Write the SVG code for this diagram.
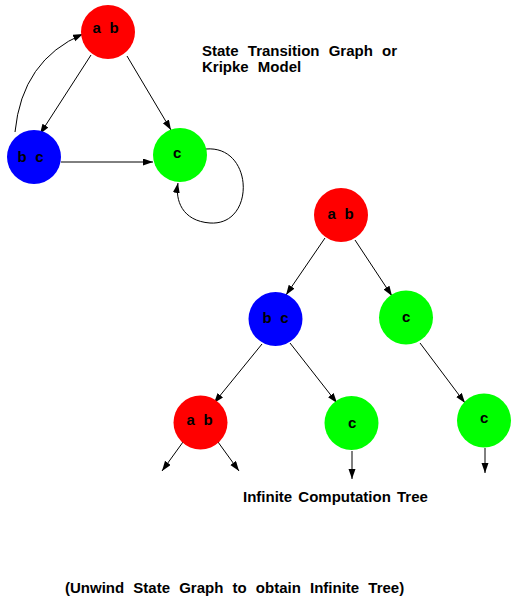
<svg xmlns="http://www.w3.org/2000/svg" width="515" height="608" viewBox="0 0 515 608">
<style>
.t{font-family:"Liberation Sans",Arial,Helvetica,sans-serif;font-weight:bold;fill:#000}
.n{font-size:15px;word-spacing:4.5px}
.h{font-size:15px;word-spacing:5px}
.e{fill:none;stroke:#000;stroke-width:1;marker-end:url(#a)}
.r{fill:#ff0000}.b{fill:#0000ff}.g{fill:#00ff00}
</style>
<defs>
<marker id="a" markerUnits="userSpaceOnUse" markerWidth="11" markerHeight="8" refX="10" refY="3.5" orient="auto">
<path d="M0,0 L10,3.5 L0,7 z" fill="#000"/>
</marker>
</defs>
<rect width="515" height="608" fill="#fff"/>
<g id="connectors">
<path class="e" d="M15,132 Q22,60 83,34"/>
<path class="e" d="M91,55 L40,134"/>
<path class="e" d="M127,56 L171,130"/>
<path class="e" d="M61,162 L153,162"/>
<path class="e" d="M206,149 C254,145 256,226 210,223 C182,221 175,200 178,183"/>
<path class="e" d="M325,238 L286,295"/>
<path class="e" d="M355,240 L392,296"/>
<path class="e" d="M262,344 L214,403"/>
<path class="e" d="M290,343 L337,403"/>
<path class="e" d="M420,343 L465,403"/>
<path class="e" d="M183,442 L162,471"/>
<path class="e" d="M218,442 L239,471"/>
<path class="e" d="M352,451 L352,479"/>
<path class="e" d="M485,448 L485,473"/>
</g>
<g id="g_ab"><circle class="r" cx="108" cy="32" r="27"/><text class="t n" x="92.5" y="33">a b</text></g>
<g id="g_bc"><circle class="b" cx="34" cy="157" r="27"/><text class="t n" x="17.5" y="162">b c</text></g>
<g id="g_c"><circle class="g" cx="180" cy="155" r="27"/><text class="t n" x="173" y="158">c</text></g>
<g id="t_root"><circle class="r" cx="341" cy="215" r="27"/><text class="t n" x="327.5" y="219">a b</text></g>
<g id="t_bc"><circle class="b" cx="275.5" cy="319" r="27"/><text class="t n" x="262.5" y="323">b c</text></g>
<g id="t_c1"><circle class="g" cx="406" cy="317.5" r="27"/><text class="t n" x="402" y="322">c</text></g>
<g id="t_ab2"><circle class="r" cx="200.5" cy="422.5" r="27"/><text class="t n" x="186.5" y="425">a b</text></g>
<g id="t_c2"><circle class="g" cx="351.5" cy="423" r="27"/><text class="t n" x="348" y="428">c</text></g>
<g id="t_c3"><circle class="g" cx="484" cy="420.5" r="27"/><text class="t n" x="480" y="423">c</text></g>
<g id="labels">
<text class="t h" x="202" y="56">State Transition Graph or</text>
<text class="t h" x="202" y="72">Kripke Model</text>
<text class="t h" x="243" y="502" style="word-spacing:2px">Infinite Computation Tree</text>
<text class="t h" x="65" y="593">(Unwind State Graph to obtain Infinite Tree)</text>
</g>
</svg>
